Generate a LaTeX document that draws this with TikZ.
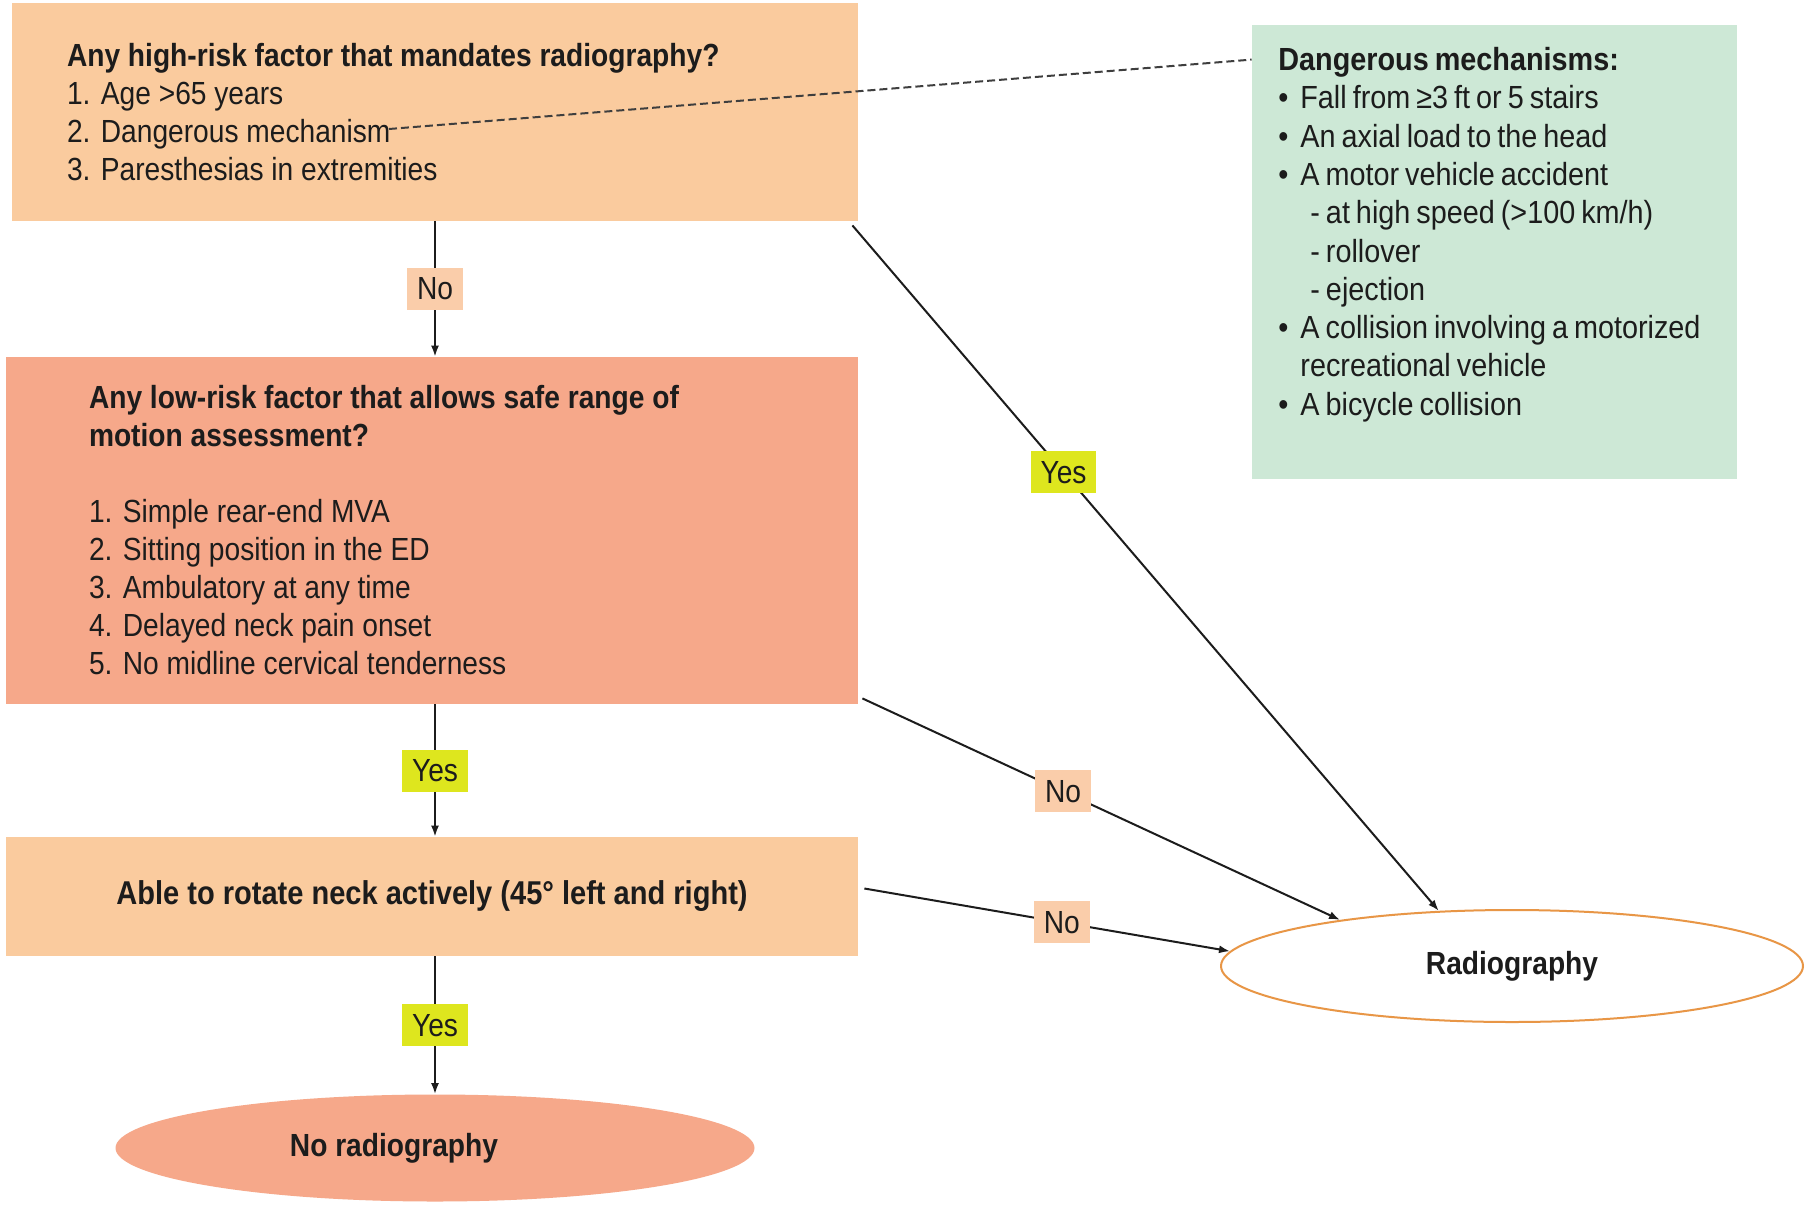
\documentclass[tikz,border=0pt]{standalone}
\usepackage{fontspec}
\setmainfont{Liberation Sans}[FakeStretch=0.88]
\newfontfamily\gfont{Liberation Sans}[FakeStretch=0.9,WordSpace=0.75]
\usetikzlibrary{arrows.meta,shapes.geometric,calc}
\definecolor{peach}{RGB}{250,203,158}
\definecolor{salmon}{RGB}{246,168,138}
\definecolor{mint}{RGB}{205,232,214}
\definecolor{yescol}{RGB}{222,230,30}
\definecolor{nocol}{RGB}{250,205,170}
\definecolor{orangeb}{RGB}{232,150,70}
\definecolor{ink}{RGB}{28,28,28}
\newcommand\bul{\makebox[11pt][l]{•}}
\newcommand\cont{\hspace*{11pt}}
\newcommand\subi{\hspace*{16pt}}
\newcommand\natsp{\spaceskip=0pt\relax\xspaceskip=0pt\relax}
\begin{document}
\begin{tikzpicture}[x=0.5pt,y=-0.5pt,
  txt/.style={font=\fontsize{16pt}{19pt}\selectfont, text=ink},
  box/.style={txt, rectangle, inner ysep=0pt, align=left},
  arr/.style={draw=ink, line width=1pt, -{Latex[length=5.5pt,width=4pt]}},
  nolab/.style={txt, fill=nocol, inner xsep=5pt, inner ysep=2pt, minimum height=21pt},
  yeslab/.style={txt, fill=yescol, inner xsep=5pt, inner ysep=2pt, minimum height=21pt},
  dashline/.style={draw=ink!85, line width=1pt, dash pattern=on 4pt off 2pt}
]
\fill[white] (0,0) rectangle (1806,1206);
\useasboundingbox (0,0) rectangle (1806,1206);

\node[box, fill=peach, minimum width=423pt, minimum height=109pt, inner xsep=27.5pt, text width=368pt] (b1) at (435,112)
  {\natsp\textbf{Any high-risk factor that mandates radiography?}\\1. Age >65 years\\2. Dangerous mechanism\\3. Paresthesias in extremities};
\coordinate (dmstart) at (389,129);

\node[box, fill=salmon, minimum width=426pt, minimum height=173.5pt, inner xsep=41.5pt, text width=343pt] (b2) at (432,530.5)
  {\natsp\textbf{Any low-risk factor that allows safe range of}\\\textbf{motion assessment?}\\[19pt]1. Simple rear-end MVA\\2. Sitting position in the ED\\3. Ambulatory at any time\\4. Delayed neck pain onset\\5. No midline cervical tenderness};

\node[txt, fill=peach, minimum width=426pt, minimum height=59.5pt, font=\fontsize{16.5pt}{19pt}\selectfont] (b3) at (432,896.5)
  {\textbf{Able to rotate neck actively (45° left and right)}};

\node[fill=mint, minimum width=242.5pt, minimum height=227pt, inner sep=0pt] (dm) at (1494.5,252) {};
\node[txt, anchor=north west, inner sep=0pt, align=left, font=\gfont\fontsize{16pt}{19.15pt}\selectfont] (dmt) at (1278,47)
  {\textbf{Dangerous mechanisms:}\\
   \bul Fall from ≥3 ft or 5 stairs\\
   \bul An axial load to the head\\
   \bul A motor vehicle accident\\
   \subi - at high speed (>100 km/h)\\
   \subi - rollover\\
   \subi - ejection\\
   \bul A collision involving a motorized\\
   \cont recreational vehicle\\
   \bul A bicycle collision};

\node[txt, ellipse, fill=salmon, minimum width=319.5pt, minimum height=53.5pt] (norad) at (435,1148)
  {\textbf{No radiography}\hspace*{41pt}};
\node[txt, ellipse, draw=orangeb, line width=1pt, fill=white, minimum width=291pt, minimum height=56pt] (rad) at (1512,966)
  {\textbf{Radiography}};

\draw[dashline] (dmstart) -- ([yshift=-17.5pt]dm.north west);

\draw[arr] (b1.south) -- node[nolab]{No} (b1.south |- b2.north);
\draw[arr] (b1.south |- b2.south) -- node[yeslab]{Yes} (b1.south |- b3.north);
\draw[arr] (b1.south |- b3.south) -- node[yeslab]{Yes} (norad.north);

\draw[arr] ([xshift=-3pt,yshift=-2pt]b1.south east) -- node[yeslab,pos=0.36]{Yes} (rad.143);
\draw[arr] ([xshift=2pt,yshift=3pt]b2.south east) -- node[nolab,pos=0.42]{No} (rad.165);
\draw[arr] ([xshift=3pt,yshift=4pt]b3.east) -- node[nolab,pos=0.54]{No} (rad.177);
\end{tikzpicture}
\end{document}
